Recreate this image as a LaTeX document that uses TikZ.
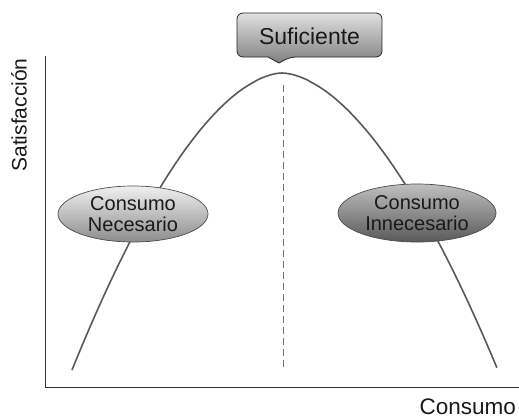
\documentclass[tikz,border=0pt]{standalone}
\usepackage{fontspec}
\setmainfont{Liberation Sans}
\usetikzlibrary{shapes.geometric}
\begin{document}
\begin{tikzpicture}[x=1pt,y=-1pt,
  axis/.style={line width=1pt, draw=black!80},
  curve/.style={line width=1.6pt, draw=black!65},
  ell/.style={ellipse, draw=black!70, line width=0.7pt, minimum width=150pt, minimum height=56pt, inner sep=0pt, align=center, font=\fontsize{20}{21.5}\selectfont, text=black!90},
  lbl/.style={font=\fontsize{21}{24}\selectfont, text=black!90}]
\useasboundingbox (0,0) rectangle (519,418);
% axes
\coordinate (ytop) at (45,56);
\coordinate (orig) at (45,387);
\coordinate (xend) at (519,387);
\draw[axis] (ytop) -- (orig) -- (xend);
\node[lbl, rotate=90] (ylab) at (19,115) {Satisfacción};
\node[lbl, anchor=base east, inner sep=0pt, font=\fontsize{22.5}{26}\selectfont] (xlab) at (516,414) {Consumo};
% dashed line
\coordinate (dtop) at (283,85);
\coordinate (dbot) at (283,370);
\draw[draw=black!55, line width=0.8pt, dash pattern=on 7pt off 4pt] (dtop) -- (dbot);
% curve
\draw[curve] plot[domain=-1:0, samples=60] ({282+210*\x},{73+297*pow(abs(\x),1.75)})
  -- plot[domain=0:1, samples=60] ({282+215*\x},{73+295*pow(\x,1.75)});
% callout
\draw[draw=black!85, line width=0.8pt, top color=black!12, bottom color=black!50, rounded corners=6pt]
  (237,13) -- (382,13) -- (382,57) -- (290,57) [sharp corners] -- (279,63) -- (268,57) [rounded corners=6pt] -- (237,57) -- cycle;
\node[lbl, font=\fontsize{23}{26}\selectfont] (suf) at (309.5,36) {Suficiente};
% ellipses
\node[ell, top color=black!6, bottom color=black!45] (nec) at (133,214) {Consumo\\Necesario};
\node[ell, top color=black!25, bottom color=black!65, minimum width=158pt, minimum height=58pt] (inn) at (417,213) {Consumo\\Innecesario};
\end{tikzpicture}
\end{document}
